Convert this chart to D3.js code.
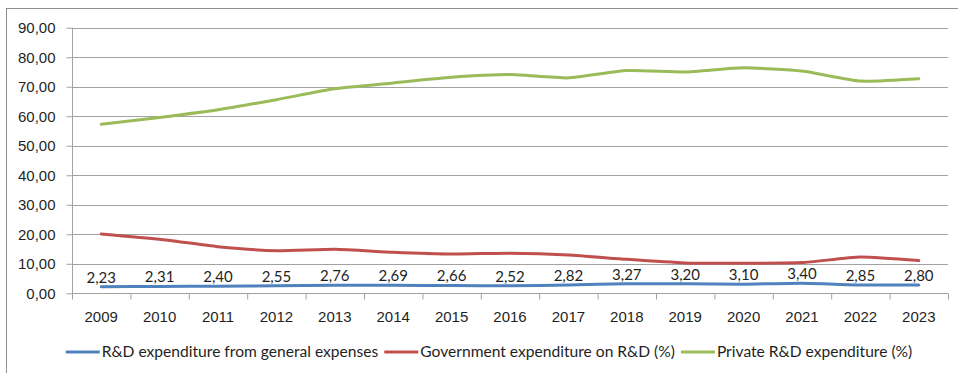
<!DOCTYPE html>
<html>
<head>
<meta charset="utf-8">
<script src="https://cdn.jsdelivr.net/npm/d3@7"></script>
<style>
  html, body { margin: 0; padding: 0; background: #fff; }
  svg { display: block; font-family: Lato, "Open Sans", sans-serif; }
</style>
</head>
<body>
<svg id="chart" width="958" height="373"></svg>
<script>
// Years on the category axis
const years = [2009, 2010, 2011, 2012, 2013, 2014, 2015, 2016, 2017, 2018, 2019, 2020, 2021, 2022, 2023];

// R&D expenditure from general expenses (labelled series)
const rdGeneral = [2.23, 2.31, 2.40, 2.55, 2.76, 2.69, 2.66, 2.52, 2.82, 3.27, 3.20, 3.10, 3.40, 2.85, 2.80];

// Government expenditure on R&D (%)
const government = [20.1, 18.3, 15.8, 14.4, 14.9, 13.9, 13.3, 13.6, 13.0, 11.5, 10.3, 10.2, 10.4, 12.3, 11.1];

// Private R&D expenditure (%)
const privateRd = [57.3, 59.6, 62.2, 65.6, 69.3, 71.3, 73.2, 74.1, 73.0, 75.5, 75.0, 76.4, 75.3, 71.9, 72.7];

// Value axis ticks
const yTicks = [0, 10, 20, 30, 40, 50, 60, 70, 80, 90];

const seriesNames = [
  "R&D expenditure from general expenses",
  "Government expenditure on R&D (%)",
  "Private R&D expenditure (%)"
];
const seriesColors = ["#4F81BD", "#C0504D", "#9BBB59"];
const seriesValues = [rdGeneral, government, privateRd];

const svg = d3.select("#chart");
const textColor = "#1f1f1f";
const gridColor = "#a2a2a2";
const labelSize = "15px";

const plot = { left: 72, right: 948, top: 27.7, bottom: 293.3 };

// Chart area frame
svg.append("rect")
  .attr("x", 6.5).attr("y", 8.5)
  .attr("width", 970).attr("height", 400)
  .attr("fill", "none")
  .attr("stroke", "#8e8e8e");

const x = d3.scaleBand().domain(years).range([plot.left, plot.right]).padding(0);
const xc = d => x(d) + x.bandwidth() / 2;
const y = d3.scaleLinear().domain([0, 90]).range([plot.bottom, plot.top]);

const locale = d3.formatLocale({ decimal: ",", thousands: ".", grouping: [3], currency: ["", ""] });
const fmt = locale.format(".2f");

// Horizontal gridlines
svg.append("g")
  .selectAll("line")
  .data(yTicks.filter(t => t > 0))
  .join("line")
  .attr("x1", plot.left).attr("x2", plot.right)
  .attr("y1", d => Math.round(y(d)) + 0.5).attr("y2", d => Math.round(y(d)) + 0.5)
  .attr("stroke", gridColor)
  .attr("stroke-width", 1);

// Value axis
const yAxis = svg.append("g")
  .attr("transform", `translate(${plot.left + 0.5},0)`)
  .call(d3.axisLeft(y).tickValues(yTicks).tickFormat(fmt).tickSize(6).tickPadding(11));
yAxis.select(".domain").attr("stroke", gridColor).attr("d", `M0,${plot.top}V${plot.bottom}`);
yAxis.selectAll(".tick line").attr("stroke", gridColor);
yAxis.selectAll(".tick text")
  .attr("fill", textColor)
  .style("font-size", labelSize);

// Category axis: tick marks between categories
const boundary = d3.scaleLinear().domain([0, years.length]).range([plot.left, plot.right]);
const xTickAxis = svg.append("g")
  .attr("transform", `translate(0,${Math.round(plot.bottom) + 0.5})`)
  .call(d3.axisBottom(boundary).ticks(years.length).tickSize(6).tickFormat(""));
xTickAxis.select(".domain").attr("stroke", gridColor).attr("d", `M${plot.left},0H${plot.right}`);
xTickAxis.selectAll(".tick line").attr("stroke", gridColor);

// Category labels centred in each band
const xAxis = svg.append("g")
  .attr("transform", `translate(0,${plot.bottom})`)
  .call(d3.axisBottom(x).tickSize(0));
xAxis.select(".domain").remove();
xAxis.selectAll(".tick text")
  .attr("y", 28.5).attr("dy", null)
  .attr("fill", textColor)
  .style("font-size", labelSize);

// Smoothed series lines
const line = d3.line()
  .x((d, i) => xc(years[i]))
  .y(d => y(d))
  .curve(d3.curveCardinal.tension(0.45));

const linesG = svg.append("g");
seriesValues.forEach((vals, k) => {
  linesG.append("path")
    .datum(vals)
    .attr("d", line)
    .attr("fill", "none")
    .attr("stroke", seriesColors[k])
    .attr("stroke-width", 3)
    .attr("stroke-linecap", "round")
    .attr("stroke-linejoin", "round");
});

// Value labels on the general-expenses series
svg.append("g")
  .selectAll("text")
  .data(rdGeneral)
  .join("text")
  .attr("x", (d, i) => xc(years[i]))
  .attr("y", d => y(d) - 4)
  .attr("text-anchor", "middle")
  .attr("fill", textColor)
  .style("font-size", labelSize)
  .text(d => fmt(d));

// Legend
const legend = svg.append("g");
let cursor = 0;
seriesNames.forEach((name, k) => {
  const item = legend.append("g").attr("transform", `translate(${cursor},0)`);
  item.append("line")
    .attr("x1", 0).attr("x2", 34)
    .attr("y1", 0).attr("y2", 0)
    .attr("stroke", seriesColors[k])
    .attr("stroke-width", 3);
  const t = item.append("text")
    .attr("x", 36)
    .attr("dy", "0.35em")
    .attr("fill", textColor)
    .style("font-size", "15.6px")
    .text(name);
  cursor += 36 + t.node().getComputedTextLength() + 6;
});
const legendWidth = cursor - 6;
legend.attr("transform", `translate(${489 - legendWidth / 2},352)`);
</script>
</body>
</html>
